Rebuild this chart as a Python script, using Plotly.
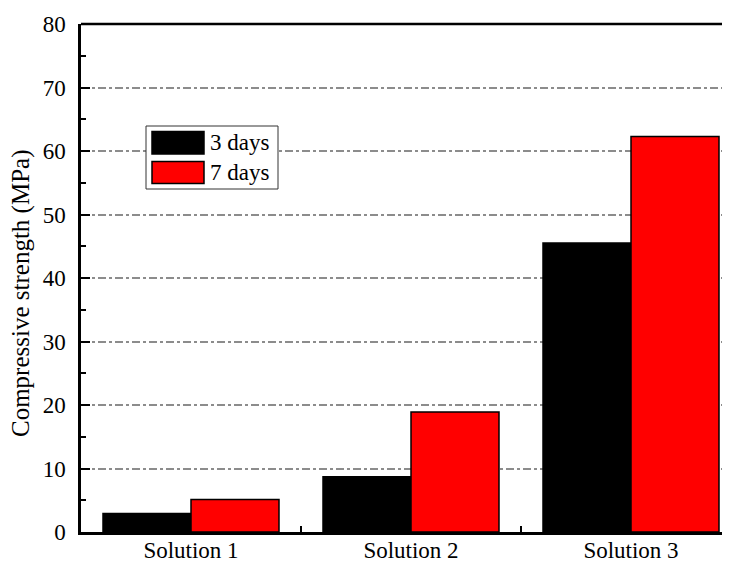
import plotly.graph_objects as go

categories = ["Solution 1", "Solution 2", "Solution 3"]
series_names = ["3 days", "7 days"]
days3 = [2.9, 8.7, 45.5]
days7 = [5.1, 18.9, 62.3]
series_colors = ["#000000", "#ff0000"]
y_ticks = [0, 10, 20, 30, 40, 50, 60, 70, 80]
y_title = "Compressive strength (MPa)"

# page is offset by the browser's default 8px body margin
OFF = 8
W, H = 730 - OFF, 563 - OFF
L, R, T, B = 81 - OFF, 730 - OFF, 24 - OFF, 532 - OFF

fig = go.Figure()
for name, vals, col in zip(series_names, [days3, days7], series_colors):
    fig.add_trace(go.Bar(
        x=categories, y=vals, name=name,
        marker=dict(color=col, line=dict(color="#000000", width=1.5)),
        showlegend=False,
    ))

font_family = "Liberation Serif"

def px2paper_x(px):
    return (px - OFF - L) / (R - L)

def px2paper_y(py):
    return (B - (py - OFF)) / (B - T)

shapes = []
annotations = []
# legend box
shapes.append(dict(type="rect", xref="paper", yref="paper",
                   x0=px2paper_x(146), x1=px2paper_x(278),
                   y0=px2paper_y(189), y1=px2paper_y(126),
                   line=dict(color="#333333", width=1), fillcolor="white", layer="above"))
rows = [(131.5, 154), (161.5, 183.5)]
for (y0, y1), name, col in zip(rows, series_names, series_colors):
    shapes.append(dict(type="rect", xref="paper", yref="paper",
                       x0=px2paper_x(152), x1=px2paper_x(204),
                       y0=px2paper_y(y1), y1=px2paper_y(y0),
                       line=dict(color="#000000", width=1.5), fillcolor=col, layer="above"))
    annotations.append(dict(xref="paper", yref="paper",
                            x=px2paper_x(208), y=px2paper_y((y0 + y1) / 2),
                            text=name, showarrow=False, xanchor="left", yanchor="middle",
                            font=dict(family=font_family, size=23, color="#000000")))
# y-axis title
annotations.append(dict(xref="paper", yref="paper",
                        x=px2paper_x(21), y=px2paper_y(294),
                        text=y_title, showarrow=False, textangle=-90,
                        xanchor="center", yanchor="middle",
                        font=dict(family=font_family, size=25, color="#000000")))

fig.update_layout(
    width=W, height=H,
    margin=dict(l=L, r=W - R, t=T, b=H - B, autoexpand=False),
    plot_bgcolor="white", paper_bgcolor="white",
    barmode="group", bargap=0.2, bargroupgap=0,
    font=dict(family=font_family, size=23, color="#000000"),
    shapes=shapes, annotations=annotations,
)
fig.update_xaxes(
    range=[-0.5, 2.45], showgrid=False, zeroline=False,
    showline=True, linecolor="#000000", linewidth=2.5, mirror=False,
    ticks="inside", tickson="boundaries", ticklen=6, tickwidth=2, tickcolor="#000000",
    tickfont=dict(family=font_family, size=23, color="#000000"),
    ticklabelstandoff=-4,
    automargin=False,
)
fig.update_yaxes(
    range=[0, 80], tickvals=y_ticks, zeroline=False,
    showline=True, linecolor="#000000", linewidth=2.5, mirror=False,
    ticks="inside", ticklen=9, tickwidth=2, tickcolor="#000000",
    minor=dict(dtick=5, ticks="inside", ticklen=5, tickwidth=2, tickcolor="#000000", showgrid=False),
    showgrid=True, gridcolor="#8c8c8c", gridwidth=1.5, griddash="8px,3px,3px,3px",
    tickfont=dict(family=font_family, size=23, color="#000000"),
    ticklabelstandoff=8,
    automargin=False,
)
# top border line
fig.add_shape(type="line", xref="paper", yref="paper", x0=0, x1=1, y0=1, y1=1,
              line=dict(color="#000000", width=2.5))

fig.write_html("out.html")
